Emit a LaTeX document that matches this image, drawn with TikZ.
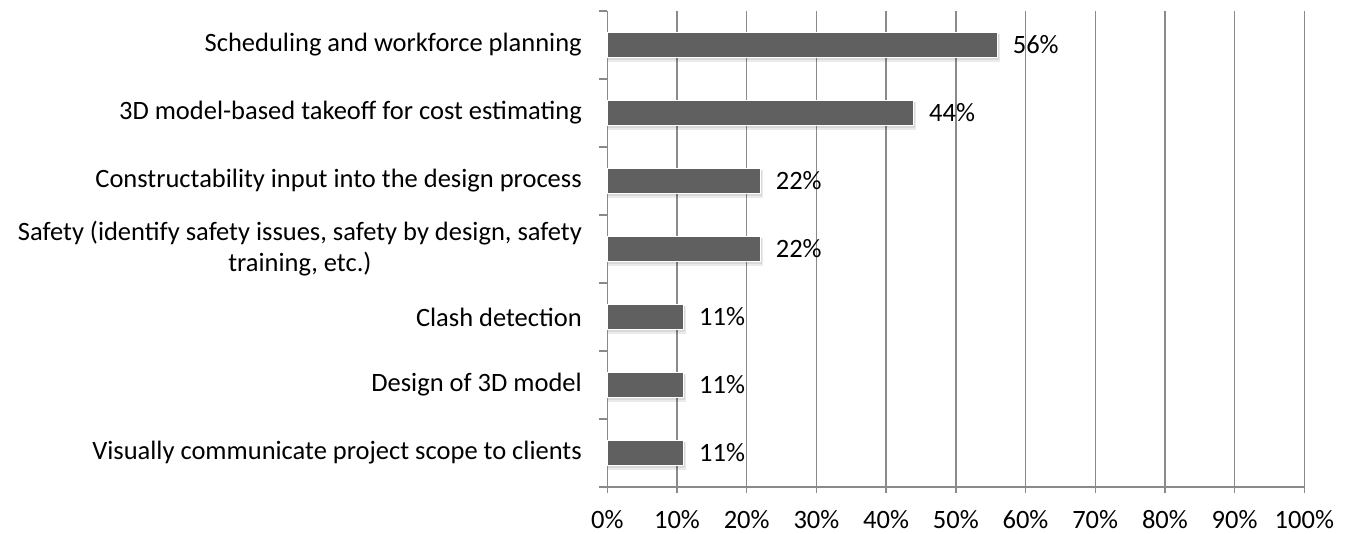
\documentclass[tikz,border=0pt]{standalone}
\usepackage{fontspec}
\setmainfont{Carlito}
\usetikzlibrary{positioning}
\definecolor{gridgray}{RGB}{138,138,138}
\definecolor{bargray}{RGB}{96,96,96}

\begin{document}
\begin{tikzpicture}[x=1pt,y=1pt,yscale=-1,
	grid/.style={color=gridgray,line width=1.4pt},
	bar/.style={fill=bargray,draw=white,line width=1pt},
	barshadow/.style={fill=black,opacity=0.08},
	cat/.style={anchor=east,inner sep=0pt,align=center,font=\fontsize{26.5}{31}\selectfont},
	val/.style={anchor=west,inner sep=0pt,font=\fontsize{26.5}{31}\selectfont},
	ticklab/.style={anchor=base,inner sep=0pt,font=\fontsize{26.5}{31}\selectfont}]
	\useasboundingbox (0,0) rectangle (1349,533);
	% gridlines and axes
	\foreach \p in {1,...,10}
		\draw [grid] (607.3+69.7*\p,11) -- (607.3+69.7*\p,493);
	\draw [grid] (607.3,11) -- (607.3,493);
	\foreach \k in {0,...,7}
		\draw [grid] (599,11+68*\k) -- (607.3,11+68*\k);
	\draw [grid] (599,487) -- (1304,487);
	% x axis labels
	\foreach \p in {0,...,10}
		\node [ticklab] (tick\p) at (607.3+69.7*\p,528) {\the\numexpr\p*10\relax\%};
	% bars
	\foreach \v/\lab [count=\i] in {56/{Scheduling and workforce planning},
			44/{3D model-based takeoff for cost estimating},
			22/{Constructability input into the design process},
			22/{Safety (identify safety issues, safety by design, safety\\training, etc.)},
			11/{Clash detection},
			11/{Design of 3D model},
			11/{Visually communicate project scope to clients}} {
		\fill [barshadow] (608.3,45+68*\i-68-11) rectangle (607.3+6.97*\v+2,45+68*\i-68+17);
		\fill [barshadow] (608.3,45+68*\i-68-11) rectangle (607.3+6.97*\v+1.5,45+68*\i-68+15);
		\draw [bar] (607.3,45+68*\i-68-12.5) rectangle (607.3+6.97*\v,45+68*\i-68+12.5);
		\node [val] (val\i) at (607.3+6.97*\v+15,45+68*\i-68) {\v\%};
		\node [cat] (cat\i) at (582,45+68*\i-68) {\lab};
	}
\end{tikzpicture}
\end{document}
